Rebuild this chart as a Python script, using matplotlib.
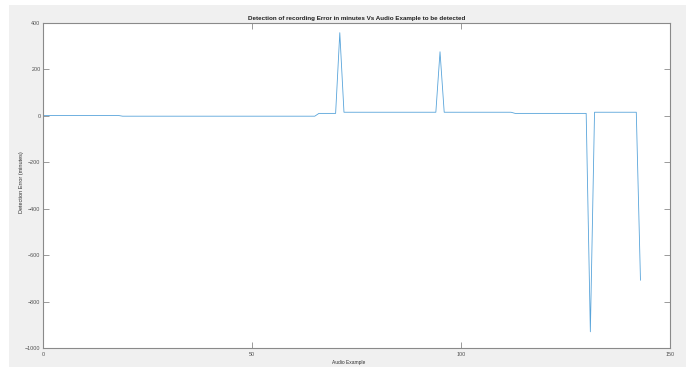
import matplotlib
matplotlib.use("Agg")
from matplotlib import pyplot as plt
from matplotlib.patches import Rectangle
import numpy as np

plt.rcParams['font.family'] = ['Liberation Sans', 'DejaVu Sans']

# detection error per audio example (minutes)
audio_example = list(range(0, 144))
detection_error = [
    1, 1, 1, 1, 1, 1, 1, 1, 1, 1, 1, 1, 1, 1, 1, 1, 1, 1, 1,
    -2, -2, -2, -2, -2, -2, -2, -2, -2, -2, -2, -2, -2, -2, -2, -2,
    -2, -2, -2, -2, -2, -2, -2, -2, -2, -2, -2, -2, -2, -2, -2, -2,
    -2, -2, -2, -2, -2, -2, -2, -2, -2, -2, -2, -2, -2, -2, -2,
    10, 10, 10, 10, 10,
    357,
    15, 15, 15, 15, 15, 15, 15, 15, 15, 15, 15, 15, 15, 15, 15, 15,
    15, 15, 15, 15, 15, 15, 15,
    275,
    15, 15, 15, 15, 15, 15, 15, 15, 15, 15, 15, 15, 15, 15, 15, 15, 15,
    10, 10, 10, 10, 10, 10, 10, 10, 10, 10, 10, 10, 10, 10, 10, 10, 10, 10,
    -929,
    15, 15, 15, 15, 15, 15, 15, 15, 15, 15, 15,
    -707,
]

x_ticks = [0, 50, 100, 150]
y_ticks = [-1000, -800, -600, -400, -200, 0, 200, 400]

fig = plt.figure(figsize=(6.86, 3.67), dpi=100, facecolor='white')
# grey window background
fig.patches.append(Rectangle((9 / 686, 0), 1, 1 - 5 / 367, transform=fig.transFigure,
                             facecolor='#f0f0f0', edgecolor='none', zorder=-1))

ax = fig.add_axes([43.3 / 686, 1 - 348.3 / 367, 626.4 / 686, 325.6 / 367])
ax.plot(audio_example, detection_error, color='#58a4da', linewidth=0.6)

ax.set_xlim(0, 150)
ax.set_ylim(-1000, 400)
ax.set_xticks(x_ticks)
ax.set_yticks(y_ticks)
ax.tick_params(direction='in', length=4, width=0.6, colors='#8a8a8a',
               labelcolor='#505050', labelsize=3.9, pad=2,
               top=True, right=True)
ax.tick_params(axis='x', pad=3)
for s in ax.spines.values():
    s.set_color('#8a8a8a')
    s.set_linewidth(0.8)

ax.set_title('Detection of recording Error in minutes Vs Audio Example to be detected',
             fontsize=4.5, fontweight='bold', color='#202020', pad=2)
ax.set_xlabel('Audio Example', fontsize=3.5, color='#303030', va='top')
ax.xaxis.set_label_coords(0.488, -0.037)
ax.set_ylabel('Detection Error (minutes)', fontsize=4.0, color='#303030', va='center')
ax.yaxis.set_label_coords(-0.0356, 0.51)

fig.savefig('out.png', dpi=100, facecolor=fig.get_facecolor())
